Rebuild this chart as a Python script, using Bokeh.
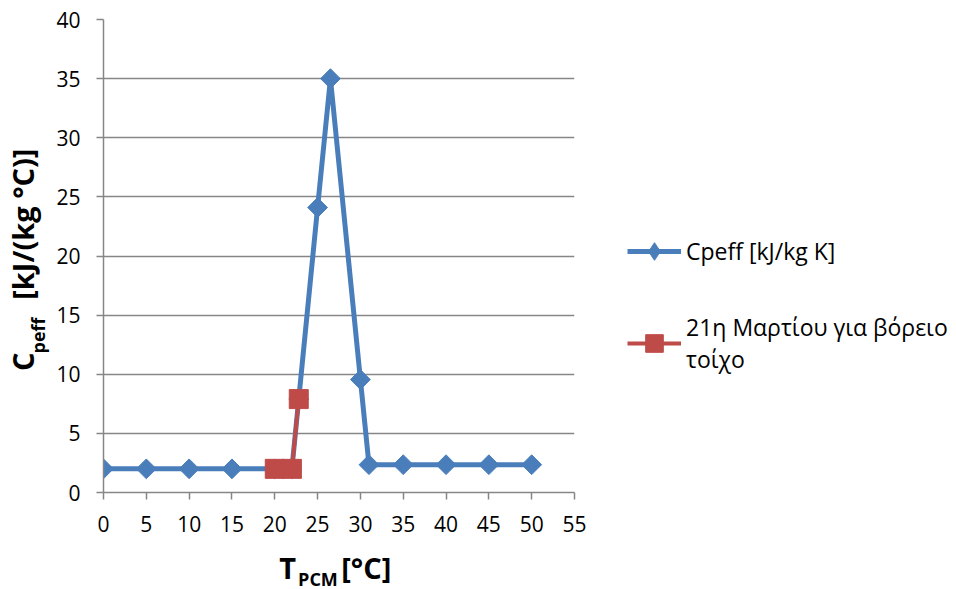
from bokeh.plotting import figure
from bokeh.models import (Range1d, FixedTicker, Legend, LegendItem, LinearAxis,
                          ColumnDataSource)
from bokeh.embed import file_html
from bokeh.resources import INLINE
import math

# ---- data ----
blue_x = [0, 5, 10, 15, 20, 22, 22.8, 25, 26.5, 30, 31, 35, 40, 45, 50]
blue_y = [2.0, 2.0, 2.0, 2.0, 2.0, 2.0, 7.9, 24.1, 35.0, 9.55, 2.35, 2.35, 2.35, 2.35, 2.35]
red_x = [20, 22, 22.8]
red_y = [2.0, 2.0, 7.9]
blue_label = "Cpeff [kJ/kg K]"
red_label = "21η Μαρτίου για βόρειο\nτοίχο"
x_ticks = list(range(0, 56, 5))
y_ticks = list(range(0, 41, 5))

FONT = "Open Sans"
BLUE = "#4A7EBB"
RED = "#BE4B48"
GRAY = "#868686"
NB = "\u00a0"

p = figure(frame_width=471, frame_height=473,
           min_border_left=103, min_border_right=370,
           min_border_top=19, min_border_bottom=90,
           x_range=Range1d(0, 55), y_range=Range1d(0, 40),
           output_backend="svg", toolbar_location=None)
p.outline_line_color = None
p.background_fill_color = "white"
p.border_fill_color = "white"

p.xaxis.ticker = FixedTicker(ticks=x_ticks)
p.yaxis.ticker = FixedTicker(ticks=y_ticks)
for ax in (p.xaxis, p.yaxis):
    ax.axis_line_color = GRAY
    ax.axis_line_width = 1.5
    ax.major_tick_line_color = GRAY
    ax.major_tick_line_width = 1.5
    ax.major_tick_out = 7
    ax.major_tick_in = 0
    ax.minor_tick_line_color = None
    ax.major_label_text_font = FONT
    ax.major_label_text_font_size = "21px"
    ax.major_label_text_color = "black"
    ax.axis_label_text_font = FONT
    ax.axis_label_text_font_style = "bold"
    ax.axis_label_text_color = "black"
    ax.axis_label_text_font_size = "29px"
p.xaxis.major_label_standoff = 16
p.yaxis.major_label_standoff = 16

# axis titles: main text on the axes, subscripts on invisible extra axes
p.xaxis.axis_label = "T" + NB * 6 + "[°C]" + NB
p.xaxis.axis_label_standoff = 13
p.yaxis.axis_label = "C" + NB * 7 + "[kJ/(kg °C)]" + NB
p.yaxis.axis_label_standoff = 11


def ghost_axis(label, size, standoff):
    return LinearAxis(ticker=FixedTicker(ticks=[]), axis_line_color=None,
                      major_tick_out=0, major_tick_in=0, minor_tick_out=0,
                      minor_tick_in=0, major_label_standoff=0,
                      axis_label=label, axis_label_standoff=standoff,
                      axis_label_text_font=FONT, axis_label_text_font_style="bold",
                      axis_label_text_font_size=size, axis_label_text_color="black")


p.add_layout(ghost_axis("PCM" + NB * 9, "18px", -23), "below")
p.add_layout(ghost_axis("peff" + NB * 34, "18px", -49), "left")

p.xgrid.grid_line_color = None
p.ygrid.grid_line_color = GRAY
p.ygrid.grid_line_width = 1.5

blue_src = ColumnDataSource(dict(x=blue_x, y=blue_y, a=[math.pi / 4] * len(blue_x)))
bl = p.line("x", "y", source=blue_src, line_color=BLUE, line_width=5)
bm = p.scatter("x", "y", source=blue_src, marker="square", angle="a", size=14,
               fill_color=BLUE, line_color=BLUE)
rl = p.line(red_x, red_y, line_color=RED, line_width=4)
rm = p.scatter(red_x, red_y, marker="square", size=19, fill_color=RED, line_color=RED)
# legend-only diamond (the legend draws markers unrotated); no visible point
bd = p.scatter(x=[float("nan")], y=[float("nan")], marker="diamond",
               fill_color=BLUE, line_color=BLUE)

legend = Legend(items=[LegendItem(label=blue_label, renderers=[bl, bd]),
                       LegendItem(label=red_label, renderers=[rl, rm])],
                location=(53, 117), orientation="vertical",
                border_line_color=None, background_fill_alpha=0,
                glyph_width=54, glyph_height=44, label_standoff=5,
                label_text_font=FONT, label_text_font_size="23px",
                label_text_line_height=1.55,
                label_text_color="black", spacing=38, padding=0, margin=0)
p.add_layout(legend, "right")

open("out.html", "w").write(file_html(p, INLINE))
